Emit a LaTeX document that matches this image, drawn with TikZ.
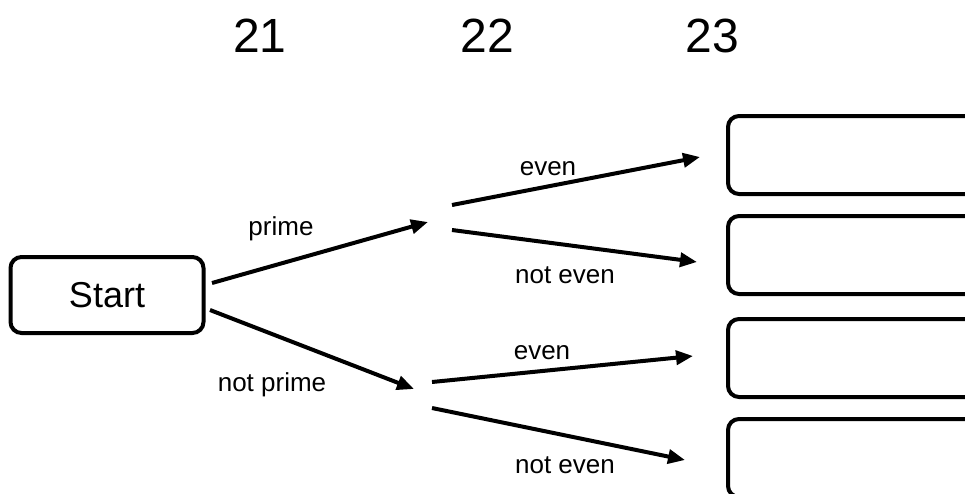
\documentclass[tikz,border=0pt]{standalone}
\usepackage{fontspec}
\setmainfont{Liberation Sans}
\usetikzlibrary{arrows.meta}
\begin{document}
\begin{tikzpicture}[x=1pt,y=-1pt,
  box/.style={draw=black,line width=4pt,rounded corners=11pt,inner sep=0pt},
  arr/.style={line width=4pt,-{Triangle[length=17pt,width=14pt]}},
  lab/.style={font=\fontsize{26}{30}\selectfont,inner sep=0pt,anchor=base},
  num/.style={font=\fontsize{48}{56}\selectfont,inner sep=0pt}]
\useasboundingbox (0,0) rectangle (965,493);
\clip (0,0) rectangle (965,493);
\node[num] (n21) at (260,36) {21};
\node[num] (n22) at (487,36) {22};
\node[num] (n23) at (712,36) {23};
\node[box,minimum width=193pt,minimum height=76pt,font=\fontsize{36}{42}\selectfont] (start) at (107,295) {Start};
\node[box,minimum width=260pt,minimum height=78pt] (r1) at (858,155) {};
\node[box,minimum width=260pt,minimum height=78pt] (r2) at (858,255) {};
\node[box,minimum width=260pt,minimum height=78pt] (r3) at (858,358) {};
\node[box,minimum width=260pt,minimum height=78pt] (r4) at (858,458) {};
\coordinate (s1) at (212,283);
\coordinate (s2) at (210,310);
\coordinate (p) at (428,222);
\coordinate (np) at (414,389);
\coordinate (pa) at (452,205);
\coordinate (pb) at (452,230);
\coordinate (na) at (432,382);
\coordinate (nb) at (432,408);
\coordinate (e1) at (700,157);
\coordinate (e2) at (697,262);
\coordinate (e3) at (693,356);
\coordinate (e4) at (685,460);
\draw[arr] (s1) -- (p);
\draw[arr] (s2) -- (np);
\draw[arr] (pa) -- (e1);
\draw[arr] (pb) -- (e2);
\draw[arr] (na) -- (e3);
\draw[arr] (nb) -- (e4);
\node[lab] (l1) at (281,235) {prime};
\node[lab] (l2) at (272,391) {not prime};
\node[lab] (l3) at (548,175) {even};
\node[lab] (l4) at (565,283) {not even};
\node[lab] (l5) at (542,359) {even};
\node[lab] (l6) at (565,473) {not even};
\end{tikzpicture}
\end{document}
